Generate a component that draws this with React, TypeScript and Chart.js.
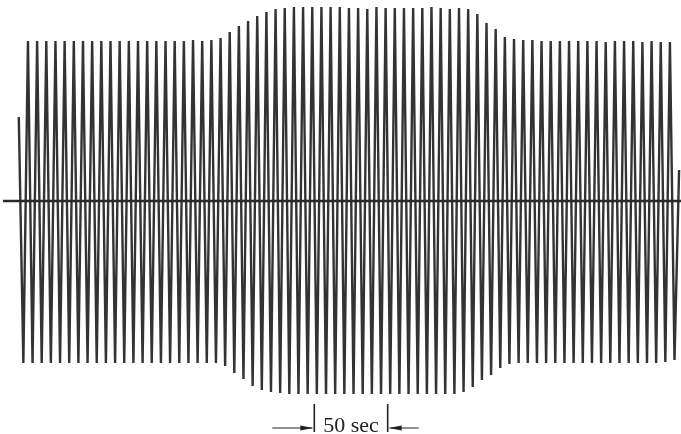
import { useEffect, useRef } from "react";
import { Chart, registerables } from "chart.js";

Chart.register(...registerables);

// Amplitudes (same units as the y scale, centre line = 0)
const startAmplitude = 84;
const endAmplitude = 31;

// upper extremes, one per cycle
const peakAmplitudes = [
  160, 160, 160, 160, 160, 160, 160, 160, 160, 160, 160, 160, 160, 160, 160, 160, 160, 160,
  161, 160, 161, 163, 169, 175, 180, 185, 189, 192,
  193, 194, 194, 194, 194, 194, 194, 193, 193, 192,
  194, 193, 193, 193, 193, 193, 194, 193, 192, 193,
  192, 187, 178, 172, 164, 162, 161, 161,
  160, 160, 160, 160, 160, 160, 160, 159, 160, 160, 160, 159, 160, 159, 159,
];

// lower extremes (magnitudes), one per cycle
const troughAmplitudes = [
  162, 162, 162, 162, 162, 162, 162, 162, 162, 162, 162,
  162, 162, 162, 162, 162, 162, 162, 162, 162, 162, 162,
  165, 172, 178, 185, 189, 191, 192,
  193, 193, 193, 193, 193, 193, 193, 193, 193, 193,
  193, 193, 193, 193, 193, 193, 193, 193, 193,
  191, 186, 179, 174, 167, 163,
  162, 162, 162, 162, 162, 162, 162, 162, 162, 162, 162, 162, 162, 162, 162, 162,
  161, 159,
];

const halfPeriodSec = 3.125; // 8 cycles per 50 sec
const scaleBarStartSec = 201.4;
const scaleBarLengthSec = 50;
const scaleBarLabel = "50 sec";
const xRange = [-12.8, 451.3];
const yRange = [-233, 201];
const baselineStartSec = -10.8;

function buildWave() {
  const values: number[] = [startAmplitude];
  for (let j = 0; j < troughAmplitudes.length; j++) {
    values.push(-troughAmplitudes[j]);
    if (j < peakAmplitudes.length) values.push(peakAmplitudes[j]);
  }
  values.push(endAmplitude);
  return values.map((y, i) => ({ x: i * halfPeriodSec, y }));
}

const scaleBarPlugin = {
  id: "scaleBar",
  afterDatasetsDraw(chart: any) {
    const { ctx, scales } = chart;
    const xs = scales.x;
    const ys = scales.y;
    const x1 = xs.getPixelForValue(scaleBarStartSec);
    const x2 = xs.getPixelForValue(scaleBarStartSec + scaleBarLengthSec);
    const top = ys.getPixelForValue(-203);
    const bottom = ys.getPixelForValue(-231);
    const arrowY = ys.getPixelForValue(-227);
    ctx.save();
    ctx.strokeStyle = "#222";
    ctx.fillStyle = "#222";
    ctx.lineWidth = 1.6;
    ctx.beginPath();
    ctx.moveTo(x1, top);
    ctx.lineTo(x1, bottom);
    ctx.moveTo(x2, top);
    ctx.lineTo(x2, bottom);
    ctx.stroke();

    ctx.lineWidth = 1;
    ctx.beginPath();
    ctx.moveTo(x1 - 42, arrowY);
    ctx.lineTo(x1 - 2, arrowY);
    ctx.moveTo(x2 + 2, arrowY);
    ctx.lineTo(x2 + 31, arrowY);
    ctx.stroke();

    ctx.beginPath();
    ctx.moveTo(x1 - 1, arrowY);
    ctx.lineTo(x1 - 14, arrowY - 2.5);
    ctx.lineTo(x1 - 14, arrowY + 2.5);
    ctx.closePath();
    ctx.fill();
    ctx.beginPath();
    ctx.moveTo(x2 + 1, arrowY);
    ctx.lineTo(x2 + 14, arrowY - 2.5);
    ctx.lineTo(x2 + 14, arrowY + 2.5);
    ctx.closePath();
    ctx.fill();

    ctx.font = '22px "Liberation Serif"';
    ctx.textAlign = "center";
    ctx.textBaseline = "alphabetic";
    ctx.fillText(scaleBarLabel, (x1 + x2) / 2, ys.getPixelForValue(-230.5));
    ctx.restore();
  },
};

export default function App() {
  const canvasRef = useRef<HTMLCanvasElement | null>(null);

  useEffect(() => {
    if (!canvasRef.current) return;
    const chart = new Chart(canvasRef.current, {
      type: "line",
      data: {
        datasets: [
          {
            label: "baseline",
            data: [
              { x: baselineStartSec, y: 0 },
              { x: xRange[1], y: 0 },
            ],
            borderColor: "#2a2a2a",
            borderWidth: 2.5,
            pointRadius: 0,
            tension: 0,
          },
          {
            label: "trace",
            data: buildWave(),
            borderColor: "#333333",
            borderWidth: 2.4,
            pointRadius: 0,
            tension: 0,
          },
        ],
      },
      options: {
        responsive: false,
        animation: false,
        devicePixelRatio: 1,
        layout: { padding: 0 },
        plugins: {
          legend: { display: false },
          tooltip: { enabled: false },
        },
        scales: {
          x: { type: "linear", min: xRange[0], max: xRange[1], display: false },
          y: { type: "linear", min: yRange[0], max: yRange[1], display: false },
        },
      },
      plugins: [scaleBarPlugin],
    });
    return () => chart.destroy();
  }, []);

  return (
    <div style={{ position: "absolute", left: 0, top: 0, width: 681, height: 434, background: "#fff" }}>
      <canvas ref={canvasRef} width={681} height={434} style={{ width: 681, height: 434, display: "block" }} />
    </div>
  );
}
